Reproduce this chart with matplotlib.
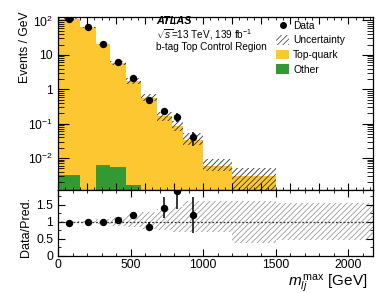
import numpy as np
import matplotlib
matplotlib.use("Agg")
import matplotlib.pyplot as plt
from matplotlib.ticker import MultipleLocator, LogLocator, NullFormatter, FixedLocator, FuncFormatter
from matplotlib.patches import Patch
from matplotlib.lines import Line2D

# ---------------- data ----------------
bin_edges = [0, 150, 260, 360, 465, 570, 680, 785, 860, 1000, 1200, 1500, 2170]
other = [0.0032, 0.0008, 0.0062, 0.0054, 0.0016, 0.0005, 0.0003, 0.0002, 0.0001, 0.0001, 0.0001, 0.0001]
top_quark = [112.0, 62.4, 20.5, 5.9, 1.74, 0.569, 0.164, 0.083, 0.0334, 0.0058, 0.0030, 0.0006]
unc_up = [0.02, 0.03, 0.08, 0.15, 0.23, 0.30, 0.37, 0.45, 0.62, 0.62, 0.62, 0.55]
unc_down = [0.02, 0.03, 0.07, 0.12, 0.16, 0.21, 0.25, 0.28, 0.30, 0.30, 0.63, 0.52]
data_x = [75, 205, 310, 412, 517, 625, 732, 822, 930]
data = [110.0, 63.0, 20.7, 6.3, 2.09, 0.489, 0.234, 0.160, 0.0404]
data_err = [1.1, 0.8, 0.45, 0.25, 0.14, 0.075, 0.05, 0.046, 0.0178]

log_tick_labels = {2: r"$10^{2}$", 1: "10", 0: "1", -1: r"$10^{-1}$", -2: r"$10^{-2}$"}
ratio_ticks = [0, 0.5, 1, 1.5]
ratio_tick_labels = ["0", "0.5", "1", "1.5"]

x_label = r"$m_{lj}^{\,\mathrm{max}}$ [GeV]"
y_label = "Events / GeV"
r_label = "Data/Pred."

# ---------------- style ----------------
plt.rcParams["font.family"] = ["Liberation Sans", "DejaVu Sans"]
plt.rcParams["mathtext.fontset"] = "custom"
plt.rcParams["mathtext.rm"] = "Liberation Sans"
plt.rcParams["mathtext.it"] = "Liberation Sans:italic"
plt.rcParams["mathtext.bf"] = "Liberation Sans:bold"
plt.rcParams["hatch.linewidth"] = 0.6

edges = np.array(bin_edges, dtype=float)
other_a = np.array(other)
top_a = np.array(top_quark)
pred = other_a + top_a
up = np.array(unc_up)
dn = np.array(unc_down)
dx = np.array(data_x, dtype=float)
d = np.array(data)
de = np.array(data_err)

W, H = 390, 293
fig = plt.figure(figsize=(W / 100, H / 100), dpi=100)
L, R = 58, 373
ax = fig.add_axes([L / W, 1 - 190 / H, (R - L) / W, (190 - 17) / H])
rax = fig.add_axes([L / W, 1 - 256 / H, (R - L) / W, (256 - 190) / H])

yellow = "#fdc731"
green = "#339933"

# main panel
ax.set_yscale("log")
ax.stairs(pred, edges, baseline=1e-7, fill=True, color=yellow, lw=0)
ax.stairs(other_a, edges, baseline=1e-7, fill=True, color=green, lw=0)
ax.stairs(pred * (1 + up), edges, baseline=pred * (1 - dn), fill=True,
          facecolor="none", edgecolor="#333333", hatch="//////", lw=0)
ax.errorbar(dx, d, yerr=de, fmt="o", color="black", ms=4.3, elinewidth=1.1, capsize=0)

ax.set_xlim(0, 2170)
ax.set_ylim(1.18e-3, 126)
ax.set_ylabel(y_label, fontsize=8.7, loc="top")
ax.yaxis.set_label_coords(-0.086, 1.03)
ax.xaxis.set_major_locator(MultipleLocator(200))
ax.xaxis.set_minor_locator(MultipleLocator(50))
ax.tick_params(axis="x", labelbottom=False)
ax.yaxis.set_major_locator(LogLocator(base=10, numticks=20))
ax.yaxis.set_minor_locator(LogLocator(base=10, subs=np.arange(2, 10), numticks=20))
ax.yaxis.set_minor_formatter(NullFormatter())
ax.yaxis.set_major_formatter(FuncFormatter(
    lambda v, p: log_tick_labels.get(int(round(np.log10(v))), "") if v > 0 else ""))
ax.tick_params(which="both", direction="in", top=True, right=True, labelsize=8.7)
ax.tick_params(axis="y", which="major", length=8, width=0.8)
ax.tick_params(axis="y", which="minor", length=4.5, width=0.6)
ax.tick_params(axis="x", which="major", length=5, width=0.8)
ax.tick_params(axis="x", which="minor", length=2.5, width=0.6)
for s in ax.spines.values():
    s.set_linewidth(0.9)

# texts
fig.text(156 / W, 1 - 21 / H, "ATLAS", fontsize=7.8, fontweight="bold", fontstyle="italic",
         va="center", ha="left")
fig.text(156 / W, 1 - 34.5 / H, r"$\sqrt{s}$=13 TeV, 139 fb$^{-1}$", fontsize=7.2,
         va="center", ha="left")
fig.text(156 / W, 1 - 47.5 / H, "b-tag Top Control Region", fontsize=7.2, va="center", ha="left")

handles = [
    Line2D([], [], marker="o", ls="none", color="black", ms=4.0),
    Patch(facecolor="none", edgecolor="#555555", hatch="//////", lw=0),
    Patch(facecolor=yellow, edgecolor="none"),
    Patch(facecolor=green, edgecolor="none"),
]
labels = ["Data", "Uncertainty", "Top-quark", "Other"]
leg = fig.legend(handles, labels, loc="upper left", bbox_to_anchor=(274 / W, 1 - 18.5 / H),
                 frameon=False, fontsize=7.4, handlelength=1.3, handleheight=1.05,
                 handletextpad=0.35, labelspacing=0.42, borderpad=0.2, borderaxespad=0)

# ratio panel
ratio = d / pred[: len(d)]
ratio_err = de / pred[: len(d)]
rax.stairs(1 + up, edges, baseline=1 - dn, fill=True, facecolor="none",
           edgecolor="#999999", hatch="//////", lw=0)
rax.axhline(1, color="#333333", lw=0.9, ls=(0, (1.5, 1.5)))
rax.errorbar(dx, ratio, yerr=ratio_err, fmt="o", color="black", ms=4.3, elinewidth=1.1,
             capsize=0, clip_on=True)
rax.set_xlim(0, 2170)
rax.set_ylim(0, 1.94)
rax.xaxis.set_major_locator(MultipleLocator(500))
rax.xaxis.set_minor_locator(MultipleLocator(100))
rax.yaxis.set_major_locator(FixedLocator(ratio_ticks))
rax.yaxis.set_major_formatter(FuncFormatter(
    lambda v, p: ratio_tick_labels[ratio_ticks.index(v)] if v in ratio_ticks else ""))
rax.yaxis.set_minor_locator(MultipleLocator(0.25))
rax.tick_params(which="both", direction="in", top=True, right=True, labelsize=8.7)
rax.tick_params(which="major", length=5, width=0.8)
rax.tick_params(which="minor", length=2.5, width=0.6)
rax.tick_params(axis="x", pad=2)
rax.set_ylabel(r_label, fontsize=9)
rax.yaxis.set_label_coords(-0.082, 0.44)
rax.set_xlabel(x_label, fontsize=11, loc="right")
rax.xaxis.set_label_coords(0.984, -0.24)
for s in rax.spines.values():
    s.set_linewidth(0.9)

fig.savefig("out.png", dpi=100)
